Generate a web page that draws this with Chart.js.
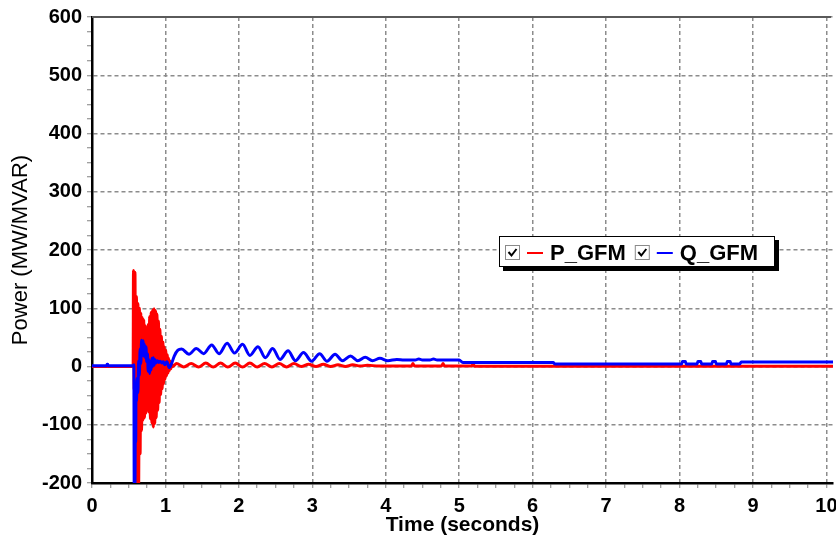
<!DOCTYPE html>
<html>
<head>
<meta charset="utf-8">
<script src="https://cdn.jsdelivr.net/npm/chart.js@4.4.0/dist/chart.umd.min.js"></script>
<style>
  html, body { margin: 0; padding: 0; background: #fff; }
</style>
</head>
<body>
<canvas id="power-chart" width="836" height="540"></canvas>
<script>
// values
const pLabel = 'P_GFM';
const qLabel = 'Q_GFM';

const pTime = [0, 0.56, 0.565, 0.575, 0.585, 0.595, 0.605, 0.615, 0.625, 0.635, 0.645, 0.655, 0.665, 0.675,
  0.685, 0.695, 0.705, 0.715, 0.725, 0.735, 0.745, 0.755, 0.765, 0.775, 0.785, 0.795, 0.805, 0.815, 0.825,
  0.835, 0.845, 0.855, 0.865, 0.875, 0.885, 0.895, 0.905, 0.915, 0.925, 0.935, 0.945, 0.955, 0.965, 0.975,
  0.985, 0.995, 1.005, 1.015, 1.025, 1.035, 1.045, 1.055, 1.065, 1.075, 1.085, 1.10,
  1.15, 1.25, 1.35, 1.45, 1.55, 1.65, 1.75, 1.85, 1.95, 2.05, 2.15, 2.25, 2.35, 2.45, 2.55, 2.65, 2.75,
  2.85, 2.95, 3.05, 3.15, 3.25, 3.35, 3.45, 3.55, 3.65, 3.75, 3.9, 4.35, 4.37, 4.39, 4.76, 4.78, 4.8,
  5.17, 5.19, 5.21, 6.5, 10.09];
const pPower = [0, 0, 165, -40, 162, -150, 120, -215, 108, -210, 100, -150, 92, -110,
  84, -92, 80, -88, 70, -80, 62, -70, 72, -78, 86, -90, 93, -97, 97,
  -104, 99, -98, 96, -88, 90, -75, 78, -62, 64, -48, 52, -38, 42, -30,
  34, -22, 28, -16, 20, -11, 14, -7, 9, -4, 5, 0,
  5, -1, 5, -1, 6, -1, 6, -1, 6, -1, 6, -1, 5, -1, 5, -1, 5,
  0, 4, 0, 4, 0, 3, 0, 3, 1, 2, 1, 1, 5, 1, 1, 5, 1,
  1, 4, 0.5, 0.5, 0.5];

const qTime = [0, 0.20, 0.205, 0.215, 0.22, 0.565, 0.57, 0.575, 0.585, 0.59, 0.595, 0.60, 0.605, 0.615,
  0.625, 0.635, 0.645, 0.655, 0.665, 0.675, 0.685, 0.695, 0.705, 0.715, 0.725, 0.735, 0.745, 0.755, 0.765,
  0.775, 0.785, 0.795, 0.805, 0.815, 0.825, 0.835, 0.845, 0.855, 0.87, 0.89, 0.91, 0.93, 0.95, 0.97, 0.99,
  1.02, 1.05, 1.08, 1.12, 1.17, 1.22, 1.32, 1.42, 1.52, 1.63, 1.73, 1.84, 1.94, 2.05, 2.15, 2.26, 2.36,
  2.46, 2.56, 2.67, 2.77, 2.88, 2.99, 3.1, 3.2, 3.31, 3.41, 3.52, 3.62, 3.72, 3.82, 3.92, 4.03, 4.15,
  4.25, 4.4, 4.45, 4.5, 4.6, 4.65, 4.7, 5.0, 5.05, 6.28, 6.3,
  8.03, 8.04, 8.08, 8.09, 8.24, 8.25, 8.29, 8.3, 8.44, 8.45, 8.49, 8.5, 8.64, 8.65, 8.69, 8.7,
  8.82, 8.84, 10.09];
const qPower = [1.5, 1.5, 4, 4, 1.5, 1.5, 3, -215, -205, -110, -130, -30, -60, -20,
  -45, 10, -15, 30, 5, 45, 25, 44, 18, 38, 15, 34, 8, 22, -8,
  12, -12, 8, -6, 14, 0, 15, 2, 12, 6, 10, 7, 9, 6, 8, 3,
  8, -2, 4, 18, 28, 30, 21, 31, 22, 37, 22, 40, 23, 38, 19, 34, 15,
  31, 12, 27, 10, 24, 9, 22, 9, 21, 10, 18, 10, 16, 10, 14, 10, 12,
  11, 11, 13, 11, 11, 13, 11, 11, 7, 7, 4.5,
  4.5, 8.5, 8.5, 4.5, 4.5, 8.5, 8.5, 4.5, 4.5, 8.5, 8.5, 4.5, 4.5, 8.5, 8.5, 4.5,
  4.5, 7.7, 7.7];

const xMajor = [0, 1, 2, 3, 4, 5, 6, 7, 8, 9, 10];
const yMajor = [-200, -100, 0, 100, 200, 300, 400, 500, 600];

const toPoints = (ts, vs) => ts.map((t, i) => ({ x: t, y: vs[i] }));

// minor ticks: 4 per major interval
function withMinor(major) {
  const out = [];
  for (let i = 0; i < major.length - 1; i++) {
    const step = (major[i + 1] - major[i]) / 4;
    for (let k = 0; k < 4; k++) out.push(major[i] + k * step);
  }
  out.push(major[major.length - 1]);
  return out;
}

const FONT = "'Liberation Sans', Arial, sans-serif";

const frameLines = {
  id: 'frameLines',
  afterDatasetsDraw(chart) {
    const { ctx, chartArea } = chart;
    ctx.save();
    ctx.strokeStyle = '#5a5a5a';
    ctx.lineWidth = 2;
    ctx.beginPath();
    ctx.moveTo(chartArea.left, chartArea.top);
    ctx.lineTo(chartArea.right - 2, chartArea.top);
    ctx.stroke();
    ctx.restore();
  }
};

const legendBox = {
  id: 'legendBox',
  afterDraw(chart) {
    const ctx = chart.ctx;
    const bx = 499, by = 236, bw = 276, bh = 31;
    ctx.save();
    ctx.fillStyle = '#000';
    ctx.fillRect(bx + 4, by + 4, bw, bh);
    ctx.fillStyle = '#fff';
    ctx.fillRect(bx, by, bw, bh);
    ctx.strokeStyle = '#000';
    ctx.lineWidth = 1;
    ctx.strokeRect(bx + 0.5, by + 0.5, bw - 1, bh - 1);

    ctx.font = 'bold 22px ' + FONT;
    ctx.textBaseline = 'middle';
    const cy = by + 17;
    let x = bx + 6;
    const order = [1, 0];
    order.forEach(i => {
      const ds = chart.data.datasets[i];
      // checkbox
      const cbx = x, cby = cy - 8;
      ctx.fillStyle = '#fff';
      ctx.fillRect(cbx, cby, 15, 15);
      ctx.strokeStyle = '#8a8a8a';
      ctx.lineWidth = 1;
      ctx.strokeRect(cbx + 0.5, cby + 0.5, 14, 14);
      ctx.strokeStyle = '#000';
      ctx.lineWidth = 2;
      ctx.beginPath();
      ctx.moveTo(cbx + 3.5, cby + 7);
      ctx.lineTo(cbx + 6.5, cby + 10.5);
      ctx.lineTo(cbx + 11.5, cby + 4);
      ctx.stroke();
      x += 22;
      // line sample
      ctx.strokeStyle = ds.borderColor;
      ctx.lineWidth = 2;
      ctx.beginPath();
      ctx.moveTo(x, cy);
      ctx.lineTo(x + 16, cy);
      ctx.stroke();
      x += 23;
      ctx.fillStyle = '#000';
      ctx.fillText(ds.label, x, cy + 1);
      x += ctx.measureText(ds.label).width + 9;
    });
    ctx.restore();
  }
};

var ctx = document.getElementById('power-chart').getContext('2d');
var powerChart = new Chart(ctx, {
  type: 'line',
  data: {
    datasets: [{
      label: qLabel,
      data: toPoints(qTime, qPower),
      borderColor: '#0000ff',
      borderWidth: 3,
      pointRadius: 0,
      cubicInterpolationMode: 'monotone',
      order: 0
    }, {
      label: pLabel,
      data: toPoints(pTime, pPower),
      borderColor: '#ff0000',
      borderWidth: 3,
      pointRadius: 0,
      cubicInterpolationMode: 'monotone',
      order: 1
    }]
  },
  options: {
    responsive: false,
    animation: false,
    devicePixelRatio: 1,
    layout: { padding: { left: 0, top: 17, right: 3, bottom: 0 } },
    plugins: {
      legend: { display: false },
      tooltip: { enabled: false }
    },
    scales: {
      x: {
        type: 'linear',
        min: 0,
        max: 10.09,
        afterBuildTicks: (scale) => { scale.ticks = withMinor(xMajor).map(v => ({ value: v })); },
        afterFit: (scale) => { scale.height = 57; scale.paddingLeft = 0; scale.paddingRight = 0; },
        ticks: {
          autoSkip: false,
          maxRotation: 0,
          padding: 6,
          color: '#000',
          font: { family: FONT, size: 20, weight: 'bold' },
          callback: (v) => xMajor.includes(v) ? String(v) : ''
        },
        grid: {
          color: (c) => (c.tick && xMajor.includes(c.tick.value)) ? '#8c8c8c' : 'rgba(0,0,0,0)',
          lineWidth: 1.5,
          tickColor: '#808080',
          tickLength: 5,
          tickWidth: 1
        },
        border: { color: '#000', width: 2.5, dash: [4, 3] },
        title: {
          display: true,
          text: 'Time (seconds)',
          color: '#000',
          font: { family: FONT, size: 21, weight: 'bold' },
          padding: { top: 0, bottom: 2 }
        }
      },
      y: {
        min: -200,
        max: 600,
        afterBuildTicks: (scale) => { scale.ticks = withMinor(yMajor).map(v => ({ value: v })); },
        afterFit: (scale) => { scale.width = 92; scale.paddingTop = 0; scale.paddingBottom = 0; },
        ticks: {
          autoSkip: false,
          padding: 5,
          color: '#000',
          font: { family: FONT, size: 20, weight: 'bold' },
          callback: (v) => yMajor.includes(v) ? String(v) : ''
        },
        grid: {
          color: (c) => (c.tick && yMajor.includes(c.tick.value)) ? '#8c8c8c' : 'rgba(0,0,0,0)',
          lineWidth: 1.5,
          tickColor: '#808080',
          tickLength: 5,
          tickWidth: 1
        },
        border: { color: '#000', width: 2.5, dash: [4, 3] },
        title: {
          display: true,
          text: 'Power (MW/MVAR)',
          color: '#000',
          font: { family: FONT, size: 22, weight: 'normal' },
          padding: { top: 8, bottom: 0 }
        }
      }
    }
  },
  plugins: [frameLines, legendBox]
});
</script>
</body>
</html>
